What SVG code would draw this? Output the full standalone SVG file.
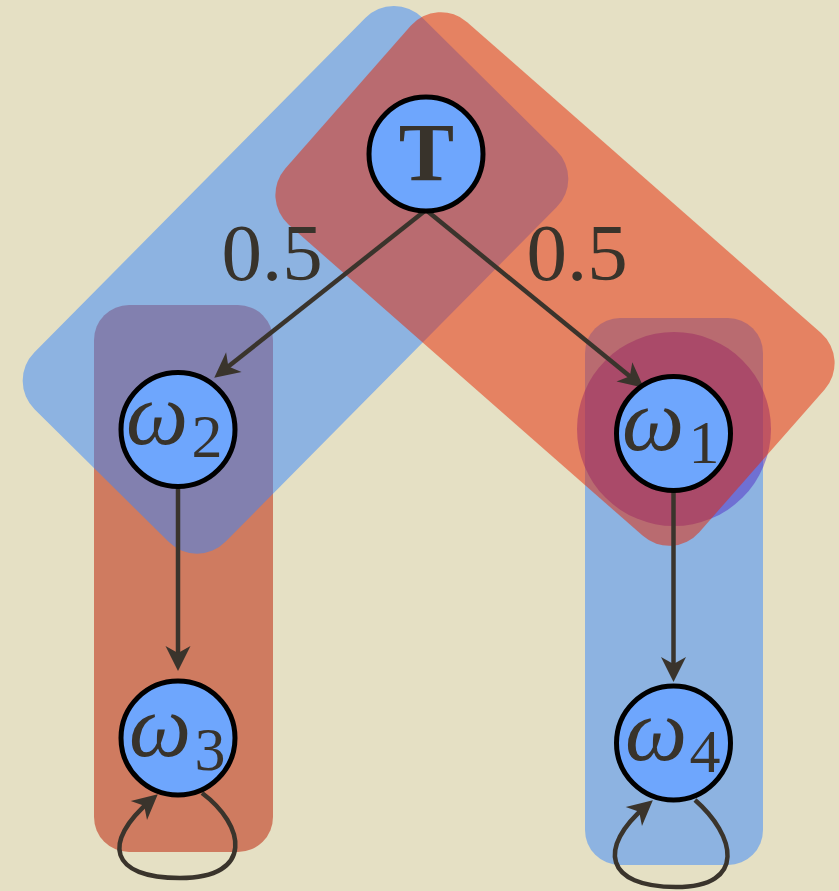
<svg xmlns="http://www.w3.org/2000/svg" width="839" height="891" viewBox="0 0 839 891">
  <style>
    .bg { fill: #e5e0c4; }
    .hl-rust { fill: #cf7b60; }
    .hl-blue { fill: #3685fe; fill-opacity: 0.5; }
    .hl-violet { fill: #522dc6; fill-opacity: 0.5; }
    .hl-red { fill: #e62300; fill-opacity: 0.5; }
    .edge { fill: none; stroke: #3a342c; stroke-width: 4.5; marker-end: url(#tip); }
    .node circle { fill: #6ea6fd; stroke: #000; stroke-width: 5; }
    .txt { font-family: "Liberation Serif", "DejaVu Serif", serif; fill: #38332b; }
    .sym { font-style: italic; font-size: 88px; text-anchor: middle; }
    .sub { font-size: 62px; text-anchor: middle; }
    .prob { font-size: 81px; text-anchor: middle; }
  </style>
  <defs>
    <marker id="tip" markerUnits="userSpaceOnUse" viewBox="-22 -14 34 28" refX="0" refY="0"
            markerWidth="34" markerHeight="28" orient="auto" overflow="visible">
      <path d="M9 0 L-16 -12.5 L-9 0 L-16 12.5 Z" fill="#3a342c"/>
    </marker>
  </defs>

  <rect class="bg" x="0" y="0" width="839" height="891"/>

  <!-- highlight regions -->
  <g id="highlights">
    <rect class="hl-rust" x="94" y="305" width="179" height="547" rx="35"/>
    <rect class="hl-blue" x="-275.5" y="-134.5" width="551" height="269" rx="40"
          transform="translate(295.5 279.8) rotate(-45.3)"/>
    <rect class="hl-blue" x="585" y="318" width="178" height="547" rx="35"/>
    <circle class="hl-violet" cx="674" cy="429" r="97"/>
    <rect class="hl-red" x="-275.5" y="-135" width="551" height="270" rx="40"
          transform="translate(555 279) rotate(41.3)"/>
  </g>

  <!-- connectors -->
  <g id="edges">
    <path class="edge" d="M426 210 L221.3 372.1"/>
    <path class="edge" d="M426 210 L636.8 382"/>
    <path class="edge" d="M178 487 L178 662"/>
    <path class="edge" d="M673.5 491 L673.5 673"/>
    <path class="edge" d="M202 793 C245 825 255 878 180 878 C110 878 101 843 151 800"/>
    <path class="edge" d="M695 800 C735 835 748 887 676 887 C605 887 597 848 646 806"/>
  </g>

  <!-- edge weights -->
  <g id="weights" class="txt">
    <text class="prob" x="272" y="280">0.5</text>
    <text class="prob" x="577" y="280">0.5</text>
  </g>

  <!-- states -->
  <g id="node-T" class="node">
    <circle cx="426" cy="154" r="57"/>
    <text class="txt" x="426.5" y="180" font-size="83" font-weight="bold" text-anchor="middle">T</text>
  </g>
  <g id="node-w2" class="node">
    <circle cx="178" cy="429.5" r="57"/>
    <text class="txt sym" x="157" y="444">ω</text>
    <text class="txt sub" x="207" y="457">2</text>
  </g>
  <g id="node-w1" class="node">
    <circle cx="673.5" cy="433.5" r="57"/>
    <text class="txt sym" x="653" y="450">ω</text>
    <text class="txt sub" x="704" y="463">1</text>
  </g>
  <g id="node-w3" class="node">
    <circle cx="178" cy="738" r="57"/>
    <text class="txt sym" x="160" y="756">ω</text>
    <text class="txt sub" x="210" y="770">3</text>
  </g>
  <g id="node-w4" class="node">
    <circle cx="673.5" cy="743" r="57"/>
    <text class="txt sym" x="656" y="760">ω</text>
    <text class="txt sub" x="705" y="772">4</text>
  </g>
</svg>
